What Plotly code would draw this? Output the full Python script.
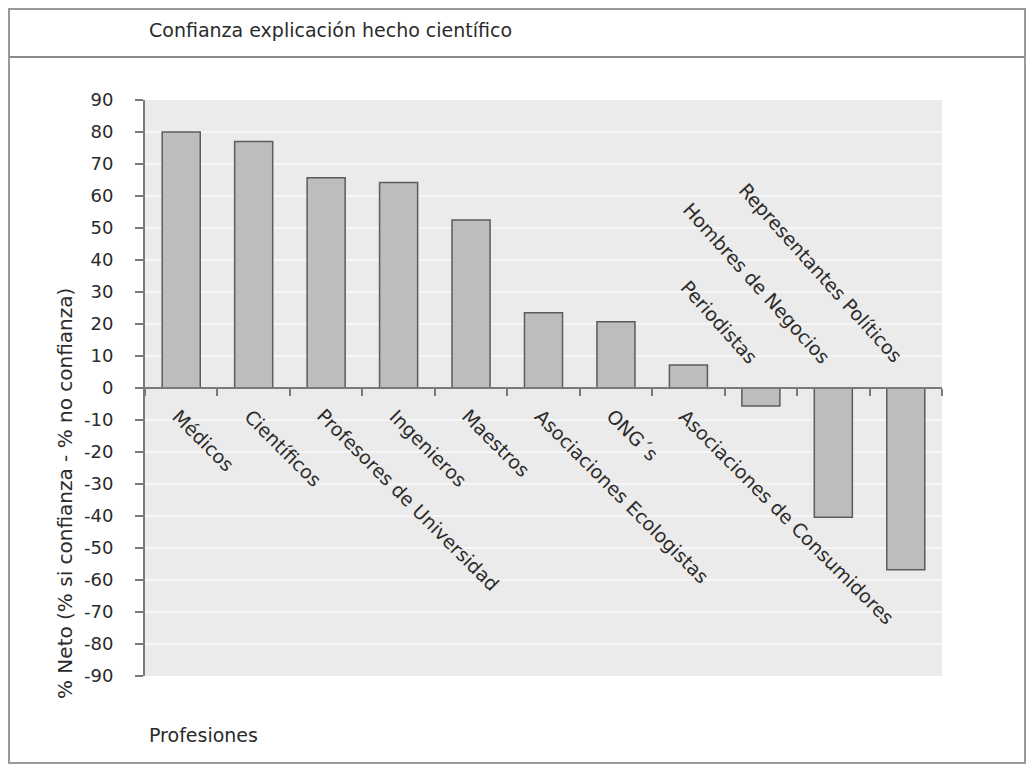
import plotly.graph_objects as go

categories = ["Médicos", "Científicos", "Profesores de Universidad", "Ingenieros",
              "Maestros", "Asociaciones Ecologistas", "ONG´s",
              "Asociaciones de Consumidores", "Periodistas", "Hombres de Negocios",
              "Representantes Políticos"]
values = [80, 77, 65.7, 64.2, 52.5, 23.5, 20.7, 7.2, -5.6, -40.4, -56.8]
y_ticks = list(range(-90, 91, 10))

title_text = "Confianza explicación hecho científico"
x_title = "Profesiones"
y_title = "% Neto (% si confianza - % no confianza)"

OFF = 8                      # page body margin
W, H = 1034 - 2 * OFF, 772 - 2 * OFF
L, R, T, B = 145, 942, 100, 676  # plot area in screen pixels


def px(x):
    return (x - L) / (R - L)


def py(y):
    return (B - y) / (B - T)


FONT = "DejaVu Sans"
TXT = "#2b2b2b"
AX = "#7a7a7a"

fig = go.Figure()
fig.add_trace(go.Bar(
    x=categories, y=values,
    marker=dict(color="#bdbdbd", line=dict(color="#5c5c5c", width=1.5)),
    hoverinfo="x+y",
))

annotations = []
for cat, v in zip(categories, values):
    if v >= 0:
        annotations.append(dict(x=cat, y=0, xref="x", yref="y", text=cat, textangle=45,
                                showarrow=False, xanchor="left", yanchor="top",
                                xshift=-16, yshift=-14,
                                font=dict(family=FONT, size=19, color=TXT)))
    else:
        annotations.append(dict(x=cat, y=0, xref="x", yref="y", text=cat, textangle=48,
                                showarrow=False, xanchor="right", yanchor="bottom",
                                xshift=4, yshift=18,
                                font=dict(family=FONT, size=19, color=TXT)))

annotations.append(dict(x=px(147), y=py(30), xref="paper", yref="paper", text=title_text,
                        showarrow=False, xanchor="left", yanchor="middle",
                        font=dict(family=FONT, size=19, color=TXT)))
annotations.append(dict(x=px(147), y=py(735), xref="paper", yref="paper", text=x_title,
                        showarrow=False, xanchor="left", yanchor="middle",
                        font=dict(family=FONT, size=19, color=TXT)))
annotations.append(dict(x=px(65), y=py(494), xref="paper", yref="paper", text=y_title,
                        showarrow=False, xanchor="center", yanchor="middle", textangle=-90,
                        font=dict(family=FONT, size=20, color=TXT)))

# outer frame (kept inside the figure's own canvas, which starts at screen pixel OFF)
fx0, fx1, fy0, fy1 = OFF + 1, OFF + W - 1, OFF + 1, OFF + H - 1
shapes = [
    dict(type="rect", xref="paper", yref="paper", x0=px(fx0), x1=px(fx1), y0=py(fy1), y1=py(fy0),
         line=dict(color="#9a9a9a", width=2), layer="below"),
    dict(type="line", xref="paper", yref="paper", x0=px(fx0), x1=px(fx1), y0=py(57), y1=py(57),
         line=dict(color="#8a8a8a", width=2)),
]

fig.update_layout(
    width=W, height=H,
    margin=dict(l=L - OFF, r=(OFF + W) - R, t=T - OFF, b=(OFF + H) - B),
    paper_bgcolor="white", plot_bgcolor="#ebebeb",
    bargap=0.475,
    showlegend=False,
    annotations=annotations,
    shapes=shapes,
    xaxis=dict(type="category", range=[-0.5, len(categories) - 0.5], anchor="free", position=0.5,
               showline=True, linecolor=AX, linewidth=2, ticks="outside", tickson="boundaries",
               ticklen=7, tickcolor=AX, tickwidth=1.5, showticklabels=False, showgrid=False,
               zeroline=False),
    yaxis=dict(range=[-90, 90], tickvals=y_ticks, ticktext=[str(t) for t in y_ticks],
               showline=True, linecolor=AX, linewidth=2, ticks="outside", ticklen=8,
               tickcolor=AX, tickwidth=1.5, ticklabelstandoff=18,
               showgrid=True, gridcolor="#f6f6f6", gridwidth=2, zeroline=False,
               tickfont=dict(family=FONT, size=18, color=TXT)),
)

fig.write_html("out.html")
